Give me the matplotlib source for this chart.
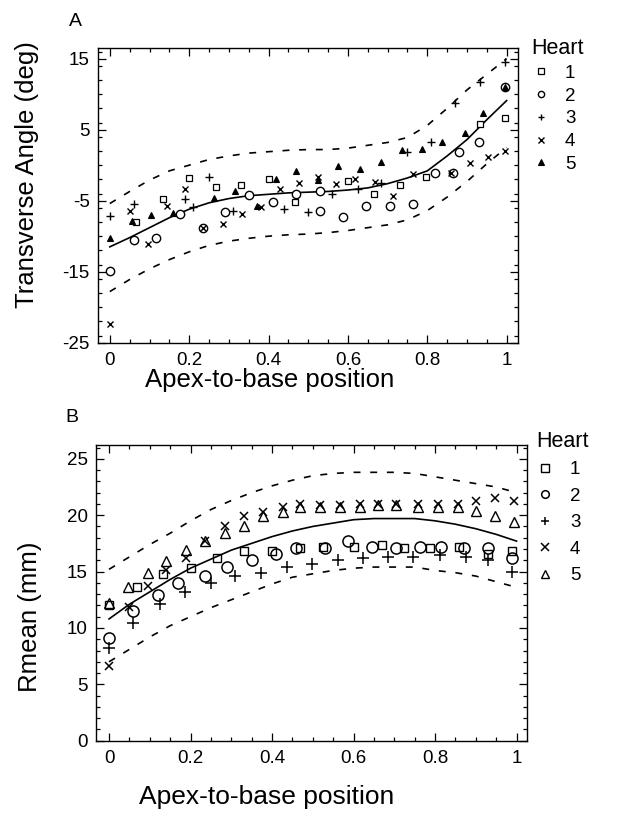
import matplotlib
matplotlib.use("Agg")
import matplotlib.pyplot as plt
from matplotlib.ticker import MultipleLocator, FixedLocator
from matplotlib.lines import Line2D

plt.rcParams["font.family"] = ["Liberation Sans", "DejaVu Sans"]
plt.rcParams["axes.unicode_minus"] = False
plt.rcParams["lines.scale_dashes"] = False

# x grid for the fit and band curves
fit_x = [0, 0.05, 0.1, 0.15, 0.2, 0.25, 0.3, 0.35, 0.4, 0.45, 0.5,
         0.55, 0.6, 0.65, 0.7, 0.75, 0.8, 0.85, 0.9, 0.95, 1.0]

# panel A: transverse angle
a_fit = [-11.5, -10.2, -8.8, -7.4, -6.2, -5.3, -4.7, -4.3, -4.1, -3.9, -3.8,
         -3.7, -3.5, -3.2, -2.6, -1.8, -0.8, 1.3, 3.6, 6.4, 9.1]
a_upper = [-5.4, -3.7, -2.1, -0.8, 0.0, 0.8, 1.3, 1.7, 1.9, 2.1, 2.2,
           2.2, 2.4, 2.8, 3.2, 3.9, 5.6, 8.0, 10.6, 12.8, 15.0]
a_lower = [-17.8, -16.1, -14.6, -13.3, -12.2, -11.3, -10.7, -10.3, -10.0, -9.8, -9.7,
           -9.5, -9.2, -8.8, -8.4, -7.7, -6.4, -4.5, -2.3, 0.2, 2.5]

a_h1_x = [0.065, 0.134, 0.2, 0.267, 0.33, 0.4, 0.466, 0.6, 0.666, 0.732, 0.796, 0.934, 0.995]
a_h1_y = [-8.0, -4.7, -1.8, -3.1, -2.8, -2.0, -5.2, -2.2, -4.0, -2.8, -1.6, 5.8, 6.7]
a_h2_x = [0, 0.06, 0.117, 0.176, 0.235, 0.29, 0.35, 0.41, 0.47, 0.53, 0.53,
          0.588, 0.646, 0.705, 0.764, 0.82, 0.866, 0.88, 0.93, 0.995]
a_h2_y = [-14.9, -10.5, -10.3, -6.9, -8.8, -6.6, -4.2, -5.2, -4.0, -6.5, -3.6,
          -7.3, -5.7, -5.7, -5.4, -1.1, -1.1, 1.8, 3.3, 11.0]
a_h3_x = [0, 0.06, 0.19, 0.21, 0.25, 0.31, 0.44, 0.5, 0.56, 0.625, 0.684,
          0.75, 0.81, 0.871, 0.932, 0.995]
a_h3_y = [-7.1, -5.4, -4.7, -5.9, -1.6, -6.4, -6.2, -6.6, -4.0, -3.3, -2.5,
          1.9, 3.3, 8.8, 11.7, 14.6]
a_h4_x = [0, 0.05, 0.097, 0.144, 0.19, 0.235, 0.285, 0.334, 0.38, 0.43, 0.476,
          0.525, 0.57, 0.617, 0.667, 0.714, 0.764, 0.86, 0.907, 0.953, 0.995]
a_h4_y = [-22.3, -6.4, -11.1, -5.7, -3.3, -8.8, -8.3, -6.9, -5.9, -3.3, -2.5,
          -1.6, -2.6, -2.0, -2.3, -4.4, -1.3, -1.1, 0.3, 1.1, 2.0]
a_h5_x = [0, 0.055, 0.105, 0.16, 0.262, 0.315, 0.37, 0.42, 0.47, 0.525,
          0.575, 0.63, 0.684, 0.737, 0.787, 0.838, 0.894, 0.94, 0.995]
a_h5_y = [-10.2, -7.9, -7.0, -6.8, -4.6, -3.6, -5.8, -2.0, -0.85, -2.1,
          -0.1, -0.6, 0.4, 2.2, 2.3, 3.3, 4.5, 7.4, 11.0]

# panel B: Rmean
b_fit = [10.8, 12.1, 13.2, 14.3, 15.3, 16.1, 16.9, 17.5, 18.1, 18.6, 19.0,
         19.3, 19.6, 19.7, 19.7, 19.7, 19.5, 19.2, 18.8, 18.3, 17.7]
b_upper = [15.2, 16.3, 17.4, 18.4, 19.5, 20.5, 21.3, 22.0, 22.6, 23.1, 23.5,
           23.7, 23.8, 23.8, 23.8, 23.7, 23.4, 23.1, 22.8, 22.5, 22.0]
b_lower = [7.0, 8.1, 9.2, 10.2, 11.0, 11.8, 12.5, 13.2, 13.9, 14.5, 14.8,
           15.1, 15.3, 15.4, 15.4, 15.4, 15.1, 14.9, 14.6, 14.1, 13.6]

b_h1_x = [0, 0.068, 0.133, 0.2, 0.264, 0.33, 0.4, 0.468, 0.525, 0.6, 0.67,
          0.725, 0.787, 0.86, 0.93, 0.99]
b_h1_y = [12.0, 13.6, 14.8, 15.3, 16.2, 16.8, 16.8, 17.1, 17.2, 17.2, 17.4,
          17.1, 17.1, 17.2, 16.6, 16.8]
b_h2_x = [0, 0.06, 0.12, 0.17, 0.235, 0.29, 0.35, 0.41, 0.46, 0.53, 0.587,
          0.645, 0.705, 0.762, 0.815, 0.87, 0.93, 0.99]
b_h2_y = [9.1, 11.5, 12.9, 14.0, 14.6, 15.4, 16.0, 16.6, 17.1, 17.1, 17.7,
          17.2, 17.1, 17.2, 17.2, 17.1, 17.1, 16.2]
b_h3_x = [0, 0.06, 0.125, 0.186, 0.25, 0.31, 0.374, 0.436, 0.497, 0.562,
          0.623, 0.685, 0.746, 0.812, 0.877, 0.93, 0.99]
b_h3_y = [8.2, 10.4, 12.1, 13.2, 14.0, 14.6, 14.9, 15.4, 15.7, 16.0,
          16.2, 16.3, 16.3, 16.5, 16.3, 16.0, 15.0]
b_h4_x = [0, 0.05, 0.096, 0.14, 0.19, 0.235, 0.285, 0.33, 0.378, 0.427, 0.468,
          0.517, 0.566, 0.615, 0.66, 0.705, 0.758, 0.807, 0.856, 0.9, 0.946, 0.995]
b_h4_y = [6.6, 11.9, 13.7, 15.1, 16.2, 17.7, 19.0, 19.9, 20.3, 20.7, 21.0,
          20.9, 20.9, 21.0, 21.0, 21.0, 21.0, 21.0, 21.0, 21.3, 21.5, 21.3]
b_h5_x = [0, 0.047, 0.096, 0.14, 0.19, 0.235, 0.285, 0.33, 0.378, 0.427, 0.468,
          0.517, 0.566, 0.615, 0.66, 0.705, 0.758, 0.807, 0.856, 0.9, 0.946, 0.995]
b_h5_y = [12.2, 13.6, 14.9, 15.9, 16.9, 17.7, 18.4, 19.0, 19.9, 20.3, 20.7,
          20.7, 20.7, 20.7, 20.9, 20.9, 20.7, 20.7, 20.7, 20.4, 19.9, 19.4]

heart_labels = ["1", "2", "3", "4", "5"]
x_ticks = [0, 0.2, 0.4, 0.6, 0.8, 1.0]
x_ticklabels = ["0", "0.2", "0.4", "0.6", "0.8", "1"]

fig = plt.figure(figsize=(6.4, 8.14), dpi=100)
axA = fig.add_axes([0.153, 0.579, 0.656, 0.362])
axB = fig.add_axes([0.150, 0.090, 0.673, 0.363])

dash = (0, (5, 7))


def style_axes(ax):
    ax.tick_params(which="both", direction="in", top=True, right=True,
                   labelsize=13.5, width=0.9, pad=6)
    ax.tick_params(axis="x", pad=7)
    ax.tick_params(which="major", length=6)
    ax.tick_params(which="minor", length=3)
    ax.set_xticks(x_ticks)
    ax.set_xticklabels(x_ticklabels)
    ax.xaxis.set_minor_locator(MultipleLocator(0.05))
    for s in ax.spines.values():
        s.set_linewidth(1.0)


# --- panel A ---
axA.plot(fit_x, a_fit, color="black", lw=1.2)
axA.plot(fit_x, a_upper, color="black", lw=1.2, linestyle=dash)
axA.plot(fit_x, a_lower, color="black", lw=1.2, linestyle=dash)
a_sets = [
    (a_h1_x, a_h1_y, dict(marker="s", ms=4, mfc="white", mec="black", mew=0.9)),
    (a_h2_x, a_h2_y, dict(marker="o", ms=6, mfc="white", mec="black", mew=1.0)),
    (a_h3_x, a_h3_y, dict(marker="+", ms=5.5, mec="black", mew=1.0)),
    (a_h4_x, a_h4_y, dict(marker="x", ms=4.5, mec="black", mew=1.0)),
    (a_h5_x, a_h5_y, dict(marker="^", ms=4.5, mfc="black", mec="black", mew=0.8)),
]
handlesA = []
for (xs, ys, kw), lab in zip(a_sets, heart_labels):
    axA.plot(xs, ys, linestyle="none", **kw)
    handlesA.append(Line2D([], [], linestyle="none", label=lab, **{**kw, "ms": 4.5}))
axA.set_xlim(-0.03, 1.028)
axA.set_ylim(-25, 16.5)
style_axes(axA)
axA.yaxis.set_major_locator(FixedLocator([-25, -15, -5, 5, 15]))
axA.yaxis.set_minor_locator(MultipleLocator(2))
axA.set_xlabel("Apex-to-base position", fontsize=18.5)
axA.xaxis.set_label_coords(0.41, -0.085)
axA.set_ylabel("Transverse Angle (deg)", fontsize=18.5)
axA.yaxis.set_label_coords(-0.14, 0.57)
axA.text(-0.07, 1.075, "A", transform=axA.transAxes, fontsize=14)
legA = axA.legend(handles=handlesA, title="Heart", loc="upper left",
                  bbox_to_anchor=(1.01, 1.065), frameon=False, fontsize=13.5,
                  title_fontsize=15.5, handlelength=1.0, handletextpad=0.8,
                  labelspacing=0.3, borderpad=0)
legA._legend_box.align = "left"

# --- panel B ---
axB.plot(fit_x, b_fit, color="black", lw=1.2)
axB.plot(fit_x, b_upper, color="black", lw=1.2, linestyle=dash)
axB.plot(fit_x, b_lower, color="black", lw=1.2, linestyle=dash)
b_sets = [
    (b_h1_x, b_h1_y, dict(marker="s", ms=5.5, mfc="none", mec="black", mew=1.0)),
    (b_h2_x, b_h2_y, dict(marker="o", ms=8, mfc="none", mec="black", mew=1.1)),
    (b_h3_x, b_h3_y, dict(marker="+", ms=8, mec="black", mew=1.1)),
    (b_h4_x, b_h4_y, dict(marker="x", ms=6, mec="black", mew=1.1)),
    (b_h5_x, b_h5_y, dict(marker="^", ms=6.5, mfc="none", mec="black", mew=1.0)),
]
handlesB = []
for (xs, ys, kw), lab in zip(b_sets, heart_labels):
    axB.plot(xs, ys, linestyle="none", **kw)
    handlesB.append(Line2D([], [], linestyle="none", label=lab, **{**kw, "ms": 5.5}))
axB.set_xlim(-0.032, 1.025)
axB.set_ylim(0, 26.2)
style_axes(axB)
axB.yaxis.set_major_locator(MultipleLocator(5))
axB.yaxis.set_minor_locator(MultipleLocator(1))
axB.set_xlabel("Apex-to-base position", fontsize=19)
axB.xaxis.set_label_coords(0.395, -0.15)
axB.set_ylabel("Rmean (mm)", fontsize=18.5)
axB.yaxis.set_label_coords(-0.125, 0.42)
axB.text(-0.07, 1.08, "B", transform=axB.transAxes, fontsize=14)
legB = axB.legend(handles=handlesB, title="Heart", loc="upper left",
                  bbox_to_anchor=(1.0, 1.08), frameon=False, fontsize=13.5,
                  title_fontsize=15.5, handlelength=1.0, handletextpad=0.8,
                  labelspacing=0.5, borderpad=0)
legB._legend_box.align = "left"

fig.savefig("out.png", dpi=100)
